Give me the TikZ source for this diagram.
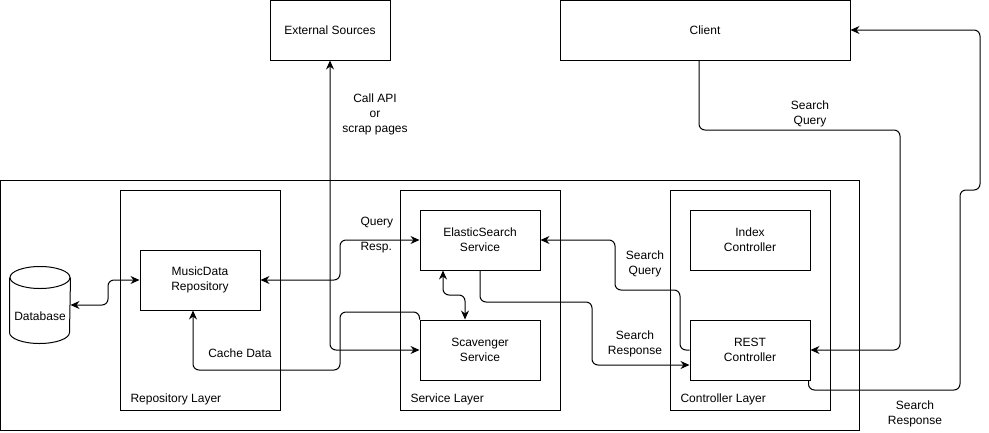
\documentclass[tikz,border=0pt]{standalone}
\usepackage{fontspec}
\setmainfont{Liberation Sans}
\usetikzlibrary{arrows.meta, positioning, calc}
\definecolor{cline}{HTML}{000000}
\tikzset{
  every picture/.style={font=\fontsize{12}{15}\selectfont, line width=1pt, x=1pt, y=-1pt},
  box/.style={draw=cline, align=center, inner sep=0pt, minimum width=120pt, minimum height=60pt},
  layer/.style={draw=cline, minimum width=160pt, minimum height=220pt, inner sep=0pt},
  arrow/.style={-{Stealth[length=9pt, width=8pt, inset=3pt]}, draw=cline, rounded corners=6pt},
  both/.style={{Stealth[length=9pt, width=8pt, inset=3pt]}-{Stealth[length=9pt, width=8pt, inset=3pt]}, draw=cline, rounded corners=6pt},
  note/.style={align=center, inner sep=0pt},
}

\begin{document}
\begin{tikzpicture}
  \useasboundingbox (0,0) rectangle (989,432);
  % the application and its three layers
  \node[draw=cline, minimum width=859pt, minimum height=250pt] (system) at (430,305) {};
  \foreach \n/\x/\t in {repo/200/Repository Layer, serv/480/Service Layer, ctrl/750/Controller Layer} {
    \node[layer] (\n) at (\x,300) {};
    \node[note, anchor=west] (\n-label) at (\x-70,399) {\t};
  }
  % outside the application
  \node[box] (ext) at (330,30) {External Sources};
  \node[box, minimum width=290pt] (client) at (705,30) {Client};
  % components
  \node[box] (music) at (200,280) {MusicData\\Repository};
  \node[box] (elastic) at (480,240) {ElasticSearch\\Service};
  \node[box] (scav) at (480,350) {Scavenger\\Service};
  \node[box] (index) at (750,240) {Index\\Controller};
  \node[box] (rest) at (750,350) {REST\\Controller};
  % database drawn as a cylinder round an empty node
  \node[minimum width=60pt, minimum height=76pt, inner sep=0pt] (db) at (40,305) {};
  \draw ($(db.north west)+(0,11)$) -- ($(db.south west)+(0,-11)$) arc (180:0:30 and 11) -- ($(db.north east)+(0,11)$);
  \draw ($(db.north)+(0,11)$) ellipse (30 and 11);
  \node[note] (db-label) at ($(db.center)+(0,11)$) {Database};

  % connectors
  \draw[both] (music.west) -| (108,305) -- (db.east);
  \draw[both] (music.east) -| (340,240) -- (elastic.west);
  \draw[arrow] (scav.north west) |- (340,312) |- (193,370) -- ([xshift=-7pt]music.south);
  \draw[both] (ext.south) |- (scav.west);
  \draw[both] ([xshift=-37pt]elastic.south) |- (465,295) -- ([xshift=-15pt]scav.north);
  \draw[arrow] (elastic.south) |- (592,302) |- ([yshift=-15pt]rest.west);
  \draw[arrow] (rest.west) -| (680,290) -| (615,240) -- (elastic.east);
  \draw[arrow] ([xshift=-6pt]client.south) |- (900,130) |- (rest.east);
  \draw[arrow] ([xshift=-2pt]rest.south east) |- (960,390) -- (960,190) -- (980,190) |- (client.east);

  % connector labels
  \node[note] (callapi) at (375,114) {Call API\\or\\scrap pages};
  \node[note, anchor=west] (query) at (360,223) {Query};
  \node[note, anchor=west] (resp) at (360,248) {Resp.};
  \node[note] (cache) at (240,353) {Cache Data};
  \node[note] (rq) at (645,264) {Search\\Query};
  \node[note] (rr) at (635,344) {Search\\Response};
  \node[note] (cq) at (810,114) {Search\\Query};
  \node[note] (cr) at (915,414) {Search\\Response};
\end{tikzpicture}
\end{document}
